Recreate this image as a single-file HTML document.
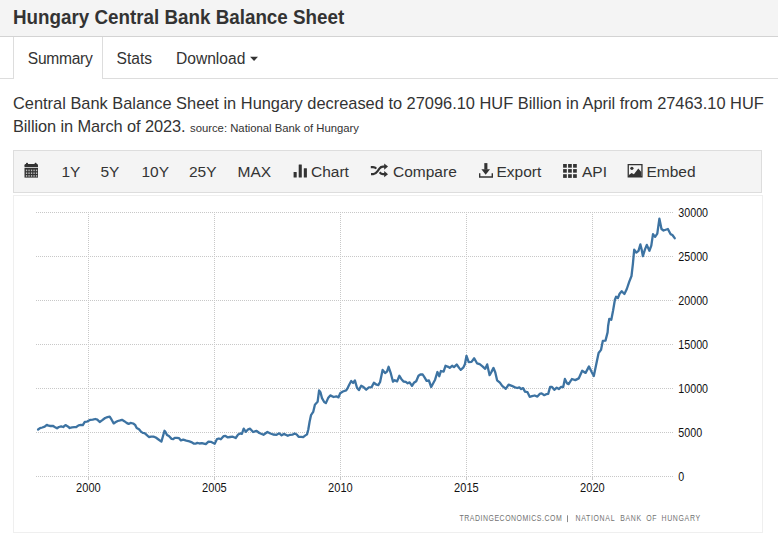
<!DOCTYPE html>
<html><head><meta charset="utf-8">
<style>
*{box-sizing:border-box;margin:0;padding:0}
html,body{width:778px;height:546px;overflow:hidden;background:#fff;font-family:"Liberation Sans",sans-serif;color:#333}
.hdr{position:absolute;left:0;top:0;width:778px;height:37px;background:#f4f4f4;border-bottom:1px solid #d3d3d3}
.hdr h1{position:absolute;left:13px;top:6px;font-size:20.4px;transform:scaleX(0.922);transform-origin:0 0;font-weight:bold;color:#333;white-space:nowrap;line-height:22px}
.tabline{position:absolute;left:0;top:78px;width:778px;height:1px;background:#ddd}
.tab-act{position:absolute;left:13px;top:37px;width:90px;height:42px;background:#fff;border:1px solid #ddd;border-top:none;border-bottom:none}
.tab{position:absolute;top:50px;font-size:15.6px;line-height:18px;white-space:nowrap;color:#333}
.desc{position:absolute;left:13px;top:92px;width:765px;white-space:nowrap;font-size:16.4px;line-height:23px;color:#333}
.desc small{font-size:11.3px}
.tb{position:absolute;left:13px;top:150px;width:749px;height:43px;background:#f4f4f4;border:1px solid #ddd}
.tbi{position:absolute;top:163px;font-size:15.5px;line-height:18px;white-space:nowrap;color:#333}
.chart{position:absolute;left:13px;top:195px;width:750px;height:338px;border:1px solid #efefef}
svg.c{position:absolute;left:0;top:0}
</style></head><body>
<div class="hdr"><h1>Hungary Central Bank Balance Sheet</h1></div>
<div class="tabline"></div>
<div class="tab-act"></div>
<div class="tab" style="left:27.8px;letter-spacing:-0.3px">Summary</div>
<div class="tab" style="left:116.5px">Stats</div>
<div class="tab" style="left:176px">Download</div>
<div class="desc">Central Bank Balance Sheet in Hungary decreased to 27096.10 HUF Billion in April from 27463.10 HUF<br><span style="letter-spacing:-0.1px">Billion in March of 2023.</span> <small>source: National Bank of Hungary</small></div>
<div class="tb"></div>
<div class="tbi" style="left:61.5px">1Y</div>
<div class="tbi" style="left:100.5px">5Y</div>
<div class="tbi" style="left:141.5px">10Y</div>
<div class="tbi" style="left:189px">25Y</div>
<div class="tbi" style="left:237.5px">MAX</div>
<div class="tbi" style="left:311px">Chart</div>
<div class="tbi" style="left:393px">Compare</div>
<div class="tbi" style="left:496.5px">Export</div>
<div class="tbi" style="left:582px">API</div>
<div class="tbi" style="left:646.5px">Embed</div>
<div class="chart"></div>
<svg class="c" width="778" height="546" viewBox="0 0 778 546">
<path d="M36 212.5H674M36 256.5H674M36 300.5H674M36 344.5H674M36 388.5H674M36 432.5H674M36 476.5H674M88.5 212V476M214.5 212V476M340.5 212V476M466.5 212V476M592.5 212V476" stroke="#c8c8c8" stroke-width="1" stroke-dasharray="1 1" fill="none"/>
<path d="M88.5 476V480M214.5 476V480M340.5 476V480M466.5 476V480M592.5 476V480" stroke="#c8c8c8" stroke-width="1" fill="none"/>
<path d="M38.1 429.5 L40.0 428.1 L42.3 427.5 L44.7 426.6 L46.8 424.9 L48.5 425.7 L50.4 426.0 L52.8 425.8 L54.7 427.0 L57.0 428.3 L58.9 427.0 L61.2 426.4 L63.2 427.0 L65.5 425.1 L67.8 426.4 L69.7 428.0 L72.0 427.4 L74.3 427.2 L76.3 427.0 L78.6 425.4 L80.9 424.9 L82.8 425.1 L84.8 421.8 L87.1 421.6 L90.4 419.8 L92.7 419.7 L95.4 419.0 L97.3 419.7 L99.7 422.0 L102.0 420.4 L105.1 418.0 L107.4 417.2 L109.7 416.7 L111.6 419.7 L113.7 423.4 L115.8 422.1 L117.8 421.0 L120.1 420.4 L122.0 419.8 L124.3 421.2 L126.6 422.9 L128.6 423.9 L130.5 422.9 L133.2 423.5 L135.1 424.9 L136.7 428.0 L139.0 429.3 L140.9 431.6 L142.8 432.9 L144.6 433.1 L146.6 434.9 L148.9 437.0 L151.2 436.7 L153.5 436.6 L155.8 437.5 L158.5 439.5 L161.4 441.6 L163.1 435.8 L164.5 430.8 L165.8 432.4 L167.0 434.9 L168.9 436.0 L171.6 438.9 L173.2 439.1 L174.7 437.8 L177.0 437.8 L178.9 438.1 L180.9 440.4 L183.2 439.7 L186.3 440.6 L189.4 441.4 L191.3 442.1 L194.0 443.7 L195.5 443.7 L197.3 442.9 L199.6 443.5 L201.9 443.1 L205.8 444.2 L208.5 441.6 L210.8 441.8 L214.7 443.7 L217.0 439.1 L218.9 438.5 L220.8 439.3 L223.5 436.2 L225.5 436.0 L227.8 437.4 L230.1 437.0 L232.8 436.7 L235.7 438.0 L238.2 434.4 L240.1 433.4 L241.9 433.9 L243.7 428.7 L245.9 431.8 L248.2 429.3 L250.1 428.7 L253.1 432.0 L256.6 430.8 L259.3 433.0 L263.5 434.8 L267.4 432.0 L270.4 433.5 L273.1 434.5 L276.6 434.8 L279.3 433.3 L281.6 435.3 L283.9 433.9 L287.8 435.8 L290.1 434.8 L292.4 434.7 L294.6 433.5 L296.7 434.5 L298.6 436.8 L301.3 436.8 L303.2 437.1 L305.1 435.6 L307.0 434.4 L308.3 429.5 L309.6 421.8 L311.0 415.2 L313.2 411.9 L314.9 404.7 L317.6 401.8 L319.1 390.4 L320.4 392.1 L322.0 398.1 L324.2 402.0 L325.9 403.1 L328.1 398.1 L330.3 395.4 L333.6 397.0 L336.3 396.3 L338.5 397.4 L340.2 393.2 L342.9 391.5 L346.2 390.4 L347.3 388.7 L349.2 384.7 L351.2 381.0 L353.1 383.0 L354.9 380.4 L357.0 387.8 L358.9 390.1 L361.2 385.8 L363.5 387.1 L366.2 389.7 L368.9 387.4 L371.6 387.1 L373.9 382.8 L376.6 384.7 L378.3 385.1 L380.1 382.0 L382.6 370.0 L385.1 373.0 L387.0 371.6 L388.6 366.8 L390.5 372.3 L393.0 381.7 L394.7 380.2 L397.1 381.4 L399.4 375.8 L401.3 378.9 L403.5 381.5 L405.8 381.8 L407.7 383.3 L409.6 382.4 L412.0 385.9 L413.9 382.8 L416.2 381.2 L418.5 375.8 L420.4 374.5 L422.7 374.5 L424.7 377.6 L426.6 380.8 L428.9 380.5 L431.2 387.0 L433.2 383.2 L435.1 379.7 L437.4 372.0 L439.3 376.2 L440.9 371.0 L443.6 371.7 L445.5 365.8 L448.2 366.8 L449.7 367.9 L452.1 365.8 L454.0 367.1 L456.7 364.5 L459.1 367.9 L460.7 369.9 L463.2 367.7 L464.9 364.2 L466.5 355.8 L468.7 362.2 L471.5 361.9 L474.2 358.3 L477.0 363.3 L479.7 364.2 L482.5 366.3 L485.2 368.8 L487.2 364.4 L489.6 375.2 L491.6 371.6 L493.5 367.9 L495.3 372.5 L497.1 380.3 L499.9 382.6 L502.2 385.8 L505.8 388.8 L508.6 384.6 L511.8 385.8 L515.0 387.4 L517.3 388.0 L519.3 387.4 L521.2 389.1 L523.1 388.1 L525.0 391.6 L527.4 392.1 L529.7 396.8 L532.0 396.2 L534.7 395.5 L537.4 396.6 L539.7 393.9 L541.6 393.4 L544.3 395.2 L546.2 394.2 L548.2 393.9 L550.1 387.0 L552.0 387.0 L554.3 389.8 L556.7 387.7 L559.0 389.1 L560.9 387.0 L563.2 387.0 L564.9 378.9 L567.1 383.4 L568.6 384.1 L571.9 379.0 L575.3 380.1 L578.7 378.4 L582.2 370.8 L585.6 372.9 L589.0 366.4 L591.8 372.2 L593.8 376.0 L596.3 363.9 L598.6 353.0 L601.0 349.9 L602.8 340.9 L605.5 340.6 L607.6 332.4 L608.1 326.0 L609.3 318.8 L611.3 319.8 L613.1 310.5 L614.9 299.8 L616.1 296.8 L617.9 298.0 L619.6 293.8 L621.7 291.2 L624.4 294.0 L626.8 289.0 L629.2 281.9 L631.5 276.0 L632.9 263.8 L634.2 249.7 L636.3 252.6 L638.5 250.8 L640.4 244.4 L641.7 249.7 L642.9 256.2 L644.9 249.7 L646.8 244.9 L649.4 250.8 L651.3 245.6 L653.0 234.1 L655.1 236.9 L657.3 233.7 L659.4 218.7 L661.5 229.0 L663.5 230.5 L667.9 229.0 L670.5 234.1 L672.4 235.0 L674.7 238.2" stroke="#3d73a2" stroke-width="2.3" fill="none" stroke-linejoin="round" stroke-linecap="round"/>
<g font-family="Liberation Sans" font-size="12.4" fill="#111"><text x="678.3" y="217.2" textLength="29.75" lengthAdjust="spacingAndGlyphs">30000</text><text x="678.3" y="261.2" textLength="29.75" lengthAdjust="spacingAndGlyphs">25000</text><text x="678.3" y="305.2" textLength="29.75" lengthAdjust="spacingAndGlyphs">20000</text><text x="678.3" y="349.2" textLength="29.75" lengthAdjust="spacingAndGlyphs">15000</text><text x="678.3" y="393.2" textLength="29.75" lengthAdjust="spacingAndGlyphs">10000</text><text x="678.3" y="437.2" textLength="23.80" lengthAdjust="spacingAndGlyphs">5000</text><text x="678.3" y="481.2" textLength="5.95" lengthAdjust="spacingAndGlyphs">0</text><text x="76.1" y="492.3" font-size="13" textLength="24.6" lengthAdjust="spacingAndGlyphs">2000</text><text x="202.1" y="492.3" font-size="13" textLength="24.6" lengthAdjust="spacingAndGlyphs">2005</text><text x="328.1" y="492.3" font-size="13" textLength="24.6" lengthAdjust="spacingAndGlyphs">2010</text><text x="454.1" y="492.3" font-size="13" textLength="24.6" lengthAdjust="spacingAndGlyphs">2015</text><text x="580.1" y="492.3" font-size="13" textLength="24.6" lengthAdjust="spacingAndGlyphs">2020</text></g>
<g font-family="Liberation Sans" font-size="8.7" fill="#737373" transform="scale(0.8 1)"><text x="574.38" y="521.4" textLength="127.75" lengthAdjust="spacing">TRADINGECONOMICS.COM</text><text x="719.38" y="521.4" textLength="48.75" lengthAdjust="spacing">NATIONAL</text><text x="775.25" y="521.4" textLength="26.25" lengthAdjust="spacing">BANK</text><text x="807.75" y="521.4" textLength="12.75" lengthAdjust="spacing">OF</text><text x="826.88" y="521.4" textLength="48.25" lengthAdjust="spacing">HUNGARY</text></g><rect x="567" y="515.3" width="1" height="6.8" fill="#8a8a8a"/>

<g fill="#333">
<!-- calendar -->
<path d="M24.5 167.2V165.2Q24.5 164 25.7 164H36.8Q38 164 38 165.2V167.2Z"/>
<rect x="26" y="162.8" width="2" height="2" rx="0.8"/>
<rect x="34.6" y="162.8" width="2" height="2" rx="0.8"/>
<rect x="24.5" y="168" width="13.5" height="9.6"/>
</g>
<g fill="#bdbdbd">
<rect x="25.9" y="169.6" width="1.3" height="1.6"/><rect x="28.4" y="169.6" width="1.3" height="1.6"/><rect x="30.9" y="169.6" width="1.3" height="1.6"/><rect x="33.4" y="169.6" width="1.3" height="1.6"/><rect x="35.9" y="169.6" width="1.3" height="1.6"/>
<rect x="25.9" y="172.4" width="1.3" height="1.6"/><rect x="28.4" y="172.4" width="1.3" height="1.6"/><rect x="30.9" y="172.4" width="1.3" height="1.6"/><rect x="33.4" y="172.4" width="1.3" height="1.6"/><rect x="35.9" y="172.4" width="1.3" height="1.6"/>
<rect x="25.9" y="175.1" width="1.3" height="1.6"/><rect x="28.4" y="175.1" width="1.3" height="1.6"/><rect x="30.9" y="175.1" width="1.3" height="1.6"/><rect x="33.4" y="175.1" width="1.3" height="1.6"/><rect x="35.9" y="175.1" width="1.3" height="1.6"/>
</g>
<g fill="#333">
<!-- chart bars -->
<rect x="293.6" y="172.1" width="3.1" height="5.5" rx="0.4"/>
<rect x="298.7" y="164.4" width="3.1" height="13.2" rx="0.4"/>
<rect x="303.8" y="168.2" width="3.1" height="9.4" rx="0.4"/>
<!-- shuffle -->
<path d="M384.2 163.4L388 166.6L384.2 169.8Z"/>
<path d="M384.2 171.1L388 174.2L384.2 177.3Z"/>
<!-- export -->
<rect x="484.3" y="163.1" width="3.1" height="6.5"/>
<path d="M481.4 169.2H490L485.7 174.8Z"/>
<path d="M479 173.2H480.4V176.2H491.6V173.2H493V177.7H479Z"/>
<!-- api -->
<rect x="563.1" y="164" width="3.7" height="3.7"/><rect x="568.1" y="164" width="3.7" height="3.7"/><rect x="573.1" y="164" width="3.7" height="3.7"/>
<rect x="563.1" y="169.1" width="3.7" height="3.6"/><rect x="568.1" y="169.1" width="3.7" height="3.6"/><rect x="573.1" y="169.1" width="3.7" height="3.6"/>
<rect x="563.1" y="174.2" width="3.7" height="3.7"/><rect x="568.1" y="174.2" width="3.7" height="3.7"/><rect x="573.1" y="174.2" width="3.7" height="3.7"/>
<!-- embed -->
<path fill-rule="evenodd" d="M627.6 164H642.6V177.4H627.6ZM628.9 165.3V176.1H641.3V165.3Z"/>
<circle cx="631.9" cy="168.3" r="1.6"/>
<path d="M628.9 176.1V174.9L631.6 173L633.9 174.3L638.3 168.4L641.3 172V176.1Z"/>
<!-- caret -->
<path d="M250.1 56.8H258L254.05 60.9Z"/>
</g>
<path d="M370.8 167.1H373Q375 167.1 376.3 168.6M371 174.1H373.4Q375.6 174.1 377.6 171.2L379.4 168.6Q380.8 166.6 383 166.6H385M379.6 172.3Q381.2 174.2 383 174.2H385" stroke="#333" stroke-width="2.2" fill="none"/>

</svg>
</body></html>
